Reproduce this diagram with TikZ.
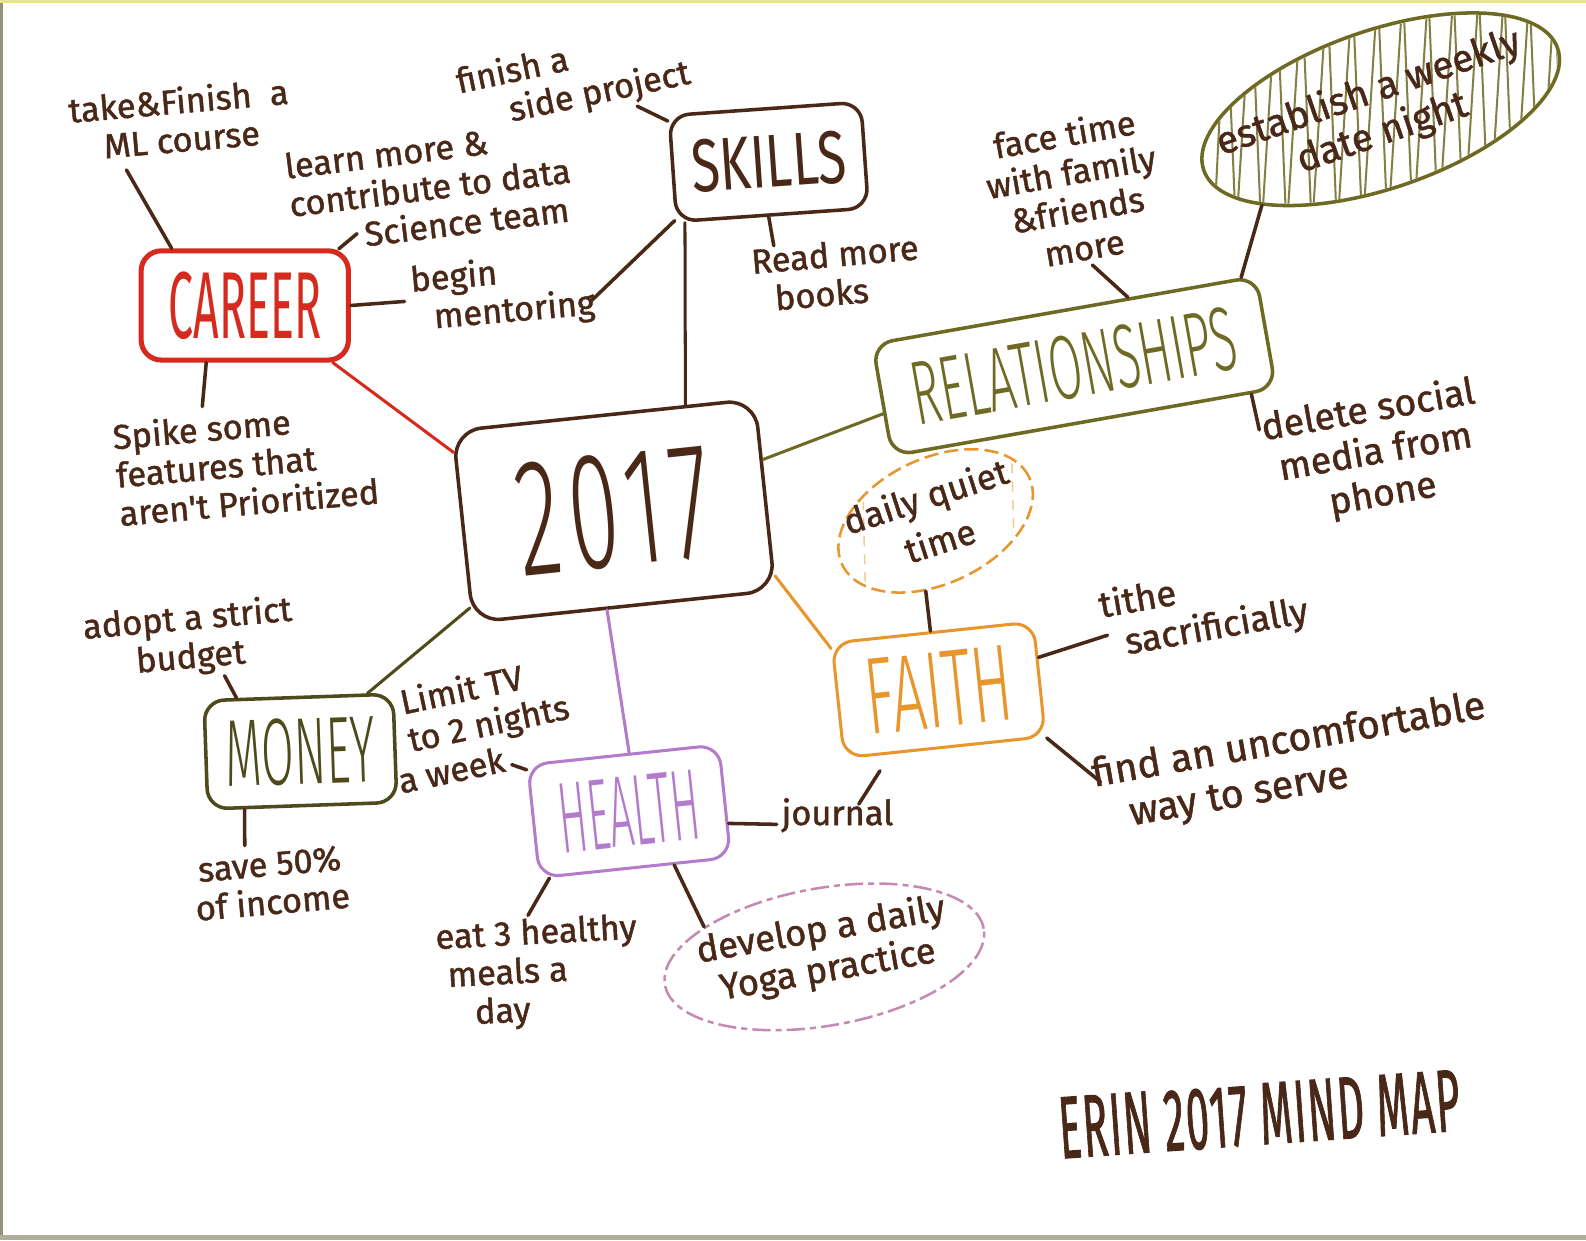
\documentclass[tikz,border=0pt]{standalone}
\usepackage{fontspec}
\setmainfont{Fira Sans}
\newfontfamily\thinfont{Fira Sans Light}
\newfontfamily\thinspaced{Fira Sans Light}[LetterSpace=9]
\newfontfamily\handfont{Fira Sans}[FakeBold=1.3]
\newfontfamily\titlefont{Fira Sans}[FakeBold=1.5,LetterSpace=4]
\usetikzlibrary{shapes.geometric}
\definecolor{ink}{HTML}{4A2818}
\definecolor{cred}{HTML}{D62A1E}
\definecolor{colive}{HTML}{6E6A24}
\definecolor{cdolive}{HTML}{4E4A1C}
\definecolor{corange}{HTML}{E8952C}
\definecolor{cpurple}{HTML}{B47ACC}
\definecolor{cpink}{HTML}{C48AB4}
\newcommand\biglbl[3]{\scalebox{#1}[1]{\fontsize{#2}{#2}\selectfont #3}}
\newcommand\thinlbl[3]{\scalebox{#1}[1]{\thinfont\fontsize{#2}{#2}\selectfont #3}}
\begin{document}
\begin{tikzpicture}[x=1pt,y=-1pt,
  box/.style={draw, rounded corners=20pt, line width=3.5pt, inner sep=0pt},
  hand/.style={text=ink, font=\handfont\fontsize{34}{38}\selectfont, align=center, inner sep=0pt},
  link/.style={draw=ink, line width=3.5pt, line cap=round},
  catlink/.style={line width=3pt, line cap=round},
  oval/.style={ellipse, inner sep=0pt}]
\fill[white] (0,0) rectangle (1568,1226);
\useasboundingbox (0,0) rectangle (1568,1226);
% paper edges
\fill[cdolive!60] (0,0) rectangle (3,1226);
\fill[colive!35!yellow!50] (0,0) rectangle (1568,3);
\fill[cdolive!45] (0,1221) rectangle (1568,1226);

% central and category boxes
\node[box, draw=ink, rounded corners=28pt, minimum width=300, minimum height=190, rotate=6] (c) at (607,505) {\scalebox{0.55}[1]{\thinspaced\fontsize{165}{165}\selectfont\color{ink}2017}};
\node[box, draw=ink, minimum width=190, minimum height=105, rotate=4] (skills) at (760,160) {\biglbl{0.7}{74}{\color{ink}SKILLS}};
\node[box, draw=cred, line width=5pt, minimum width=205, minimum height=108] (career) at (242,302) {\biglbl{0.47}{94}{\color{cred}CAREER}};
\node[box, draw=colive, minimum width=385, minimum height=112, rotate=10] (rel) at (1062,362) {\thinlbl{0.53}{90}{\color{colive}RELATIONSHIPS}};
\node[box, draw=corange, line width=3pt, minimum width=200, minimum height=114, rotate=6] (faith) at (928,682) {\thinlbl{0.55}{108}{\color{corange}FAITH}};
\node[box, draw=cpurple, line width=3pt, minimum width=190, minimum height=112, rotate=6] (health) at (622,802) {\thinlbl{0.42}{100}{\color{cpurple}HEALTH}};
\node[box, draw=cdolive, minimum width=187, minimum height=107, rotate=2] (money) at (297,743) {\thinlbl{0.5}{94}{\color{cdolive}MONEY}};

% ovals
\begin{scope}
\clip[rotate around={19:(1365,108)}] (1365,108) ellipse [x radius=183, y radius=76];
\draw[colive!85, line width=2pt, line join=round] (1200,230)
  \foreach \i in {0,...,13} { -- ({1212+25*\i},-10) -- ({1222+25*\i},230) };
\end{scope}
\node[oval, draw=colive, line width=3.5pt, minimum width=370, minimum height=156, rotate=19] (est) at (1365,108) {};
\begin{scope}
\clip[rotate around={25:(925,515)}] (925,515) ellipse [x radius=98, y radius=58];
\foreach \x in {852,1000} {\draw[corange!50, line width=1.5pt, dash pattern=on 10pt off 8pt] (\x,440) -- (\x+4,600);}
\end{scope}
\node[oval, draw=corange, line width=2.5pt, dash pattern=on 14pt off 6pt, minimum width=204, minimum height=124, rotate=25] (quiet) at (925,515) {};
\node[oval, draw=cpink, line width=2.5pt, dash pattern=on 18pt off 5pt on 6pt off 5pt, minimum width=320, minimum height=136, rotate=10] (yoga) at (815,946) {};

% texts
\node[hand, rotate=5] (t-ml) at (178,118) {take\&Finish\ \ a\\ML course};
\node[hand, rotate=7, align=left] (t-learn) at (425,185) {learn more \&\\contribute to data\\\hspace*{70pt}Science team};
\node[hand, rotate=12, align=left] (t-side) at (567,78) {finish a\\\hspace*{45pt}side project};
\node[hand, rotate=5, align=left] (t-mentor) at (497,290) {begin\\\hspace*{20pt}mentoring};
\node[hand, rotate=5, align=left] (t-read) at (827,270) {Read more\\\hspace*{20pt}books};
\node[hand, rotate=10] (t-face) at (1062,188) {face time\\with family\\\&friends\\more};
\node[hand, rotate=10, font=\handfont\fontsize{37}{42}\selectfont] (t-delete) at (1360,448) {delete social\\media from\\phone};
\node[hand, rotate=5, align=left] (t-spike) at (243,458) {Spike some\\features that\\aren't Prioritized};
\node[hand, rotate=5] (t-budget) at (187,632) {adopt a strict\\budget};
\node[hand, rotate=5] (t-save) at (268,873) {save 50\%\\of income};
\node[hand, rotate=12, align=left] (t-tv) at (474,716) {\hspace*{18pt}Limit TV\\\hspace*{18pt}to 2 nights\\a week};
\node[hand] (t-journal) at (828,806) {journal};
\node[hand, rotate=10, align=left, font=\handfont\fontsize{36}{40}\selectfont] (t-tithe) at (1190,603) {tithe\\\ \ sacrificially};
\node[hand, rotate=10, align=left, font=\handfont\fontsize{39}{44}\selectfont] (t-find) at (1278,755) {find an uncomfortable\\\hspace*{30pt}way to serve};
\node[hand, rotate=3, align=left] (t-eat) at (532,962) {eat 3 healthy\\\hspace*{10pt}meals a\\\hspace*{35pt}day};
\node[hand, rotate=18, font=\handfont\fontsize{35}{46}\selectfont] (t-quiet) at (922,512) {daily quiet\\time};
\node[hand, rotate=19, font=\handfont\fontsize{38}{42}\selectfont] (t-est) at (1360,112) {establish a weekly\\date night};
\node[hand, rotate=10, font=\handfont\fontsize{36}{40}\selectfont] (t-yoga) at (815,940) {develop a daily\\Yoga practice};
\node[inner sep=0pt, rotate=4] (title) at (1245,1102) {\scalebox{0.47}[1]{\titlefont\fontsize{87}{87}\selectfont\color{ink}ERIN 2017 MIND MAP}};

% category links
\draw[catlink, cred] (c.154) -- (career.327);
\draw[catlink, ink] (c.50) -- (skills.212);
\draw[catlink, colive] (c.13) -- (rel.184);
\draw[catlink, corange] (c.332) -- (faith.153);
\draw[catlink, cpurple] (c.260) -- (health.84);
\draw[catlink, cdolive] (c.208) -- (money.39);

% career
\coordinate (k1) at (125,168);
\coordinate (k2a) at (335,246);
\coordinate (k2b) at (353,231);
\coordinate (k3) at (400,298);
\coordinate (k4) at (200,402);
\draw[link] (career.142) -- (k1);
\draw[link] (k2a) -- (k2b);
\draw[link] (career.east) -- (k3);
\draw[link] (career.236) -- (k4);
% skills
\coordinate (s1) at (630,105);
\coordinate (s2) at (585,297);
\coordinate (s3) at (765,243);
\draw[link] (skills.154) -- (s1);
\draw[link] (skills.208) -- (s2);
\draw[link] (skills.266) -- (s3);
% relationships
\coordinate (r1) at (1080,262);
\coordinate (r3) at (1245,425);
\draw[link] (rel.42) -- (r1);
\draw[link] (rel.18) -- (est.200);
\draw[link] (rel.341) -- (r3);
% faith
\coordinate (f2) at (1095,628);
\coordinate (f3) at (1088,773);
\coordinate (j1) at (870,762);
\coordinate (j2) at (849,795);
\draw[link] (faith.92) -- (quiet.237);
\draw[link] (faith.12) -- (f2);
\draw[link] (faith.330) -- (f3);
\draw[link] (j1) -- (j2);
% health
\coordinate (h1) at (506,756);
\coordinate (h2) at (768,815);
\coordinate (h3) at (522,905);
\draw[link] (health.152) -- (h1);
\draw[link] (health.347) -- (h2);
\draw[link] (health.214) -- (h3);
\draw[link] (health.304) -- (yoga.156);
% money
\coordinate (m1) at (222,668);
\coordinate (m2) at (242,836);
\draw[link] (money.138) -- (m1);
\draw[link] (money.224) -- (m2);
\end{tikzpicture}
\end{document}
